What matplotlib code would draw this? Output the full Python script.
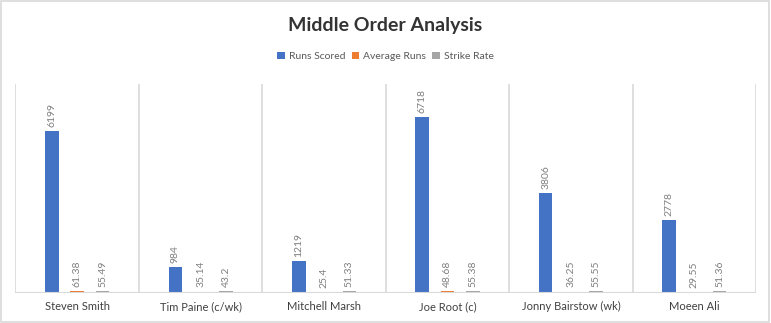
import numpy as np
import matplotlib
matplotlib.use('Agg')
import matplotlib.pyplot as plt
from matplotlib.patches import Rectangle

plt.rcParams['font.family'] = ['Lato', 'DejaVu Sans']

# 数据
players = ['Steven Smith', 'Tim Paine (c/wk)', 'Mitchell Marsh', 'Joe Root (c)',
           'Jonny Bairstow (wk)', 'Moeen Ali']
runs_scored = [6199, 984, 1219, 6718, 3806, 2778]
average_runs = [61.38, 35.14, 25.4, 48.68, 36.25, 29.55]
strike_rate = [55.49, 43.2, 51.33, 55.38, 55.55, 51.36]
avg_labels = ['61.38', '35.14', '25.4', '48.68', '36.25', '29.55']
sr_labels = ['55.49', '43.2', '51.33', '55.38', '55.55', '51.36']
series_names = ['Runs Scored', 'Average Runs', 'Strike Rate']
colors = ['#4472C4', '#ED7D31', '#A5A5A5']

fig = plt.figure(figsize=(7.71, 3.23), dpi=100)
fig.patches.append(Rectangle((0.001, 0.002), 0.997, 0.995, transform=fig.transFigure,
                             fill=False, edgecolor='#D9D9D9', linewidth=1.2))
ax = fig.add_axes([0.0201, 0.0944, 0.9605, 0.6456])

x = np.arange(len(players))
width = 0.11
offsets = [-0.205, 0.0, 0.205]
all_series = [runs_scored, average_runs, strike_rate]
all_labels = [[str(v) for v in runs_scored], avg_labels, sr_labels]

for vals, labs, off, col, name in zip(all_series, all_labels, offsets, colors, series_names):
    ax.bar(x + off, vals, width, color=col, label=name, zorder=3)
    for xi, v, lab in zip(x, vals, labs):
        ax.annotate(lab, (xi + off, v), xytext=(0, 3), textcoords='offset points',
                    rotation=90, ha='center', va='bottom', fontsize=7.5, color='#7F7F7F')

ax.set_xlim(-0.5, len(players) - 0.5)
ax.set_ylim(0, 8000)
# 类别分隔线
for b in np.arange(-0.5, len(players), 1.0):
    ax.axvline(b, color='#D9D9D9', linewidth=1.2, zorder=1)
ax.axhline(0, color='#D9D9D9', linewidth=1.5, zorder=4)

for s in ax.spines.values():
    s.set_visible(False)
ax.set_yticks([])
ax.set_xticks(x)
ax.set_xticklabels(players, fontsize=8, color='#404040')
ax.tick_params(axis='x', length=0, pad=6)

fig.text(0.5, 0.922, 'Middle Order Analysis', ha='center', va='center',
         fontsize=14, fontweight='bold', color='#333333')
fig.legend(loc='center', bbox_to_anchor=(0.5, 0.826), ncol=3, frameon=False,
           fontsize=7.5, handlelength=0.7, handleheight=0.7, handletextpad=0.4,
           columnspacing=0.6, labelcolor='#595959')

fig.savefig('out.png', dpi=100)
